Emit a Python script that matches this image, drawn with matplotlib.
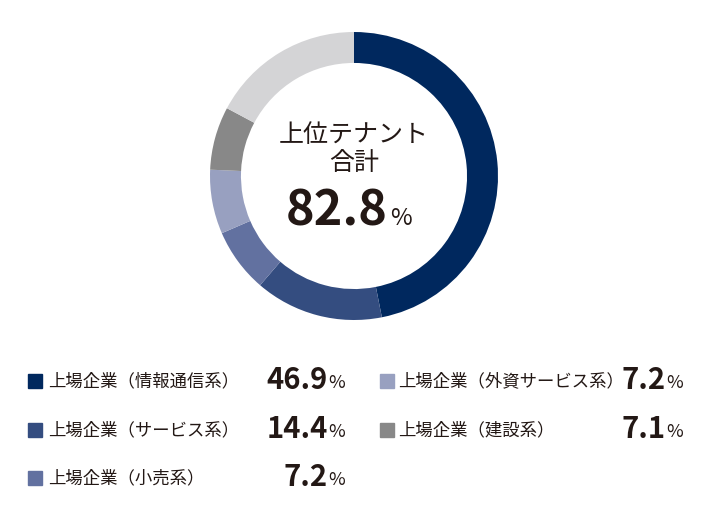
import matplotlib.pyplot as plt

plt.rcParams['font.family'] = ['Noto Sans CJK JP', 'DejaVu Sans']

labels = ['上場企業（情報通信系）', '上場企業（サービス系）', '上場企業（小売系）',
          '上場企業（外資サービス系）', '上場企業（建設系）']
values = [46.9, 14.4, 7.2, 7.2, 7.1]
colors = ['#00285e', '#344d80', '#6271a0', '#98a0c0', '#888888']
other_color = '#d4d4d6'
total_label = '82.8'
text_color = '#231815'

W, H = 710, 520
fig = plt.figure(figsize=(W / 100, H / 100), dpi=100)

# donut
cx, cy, r = 354, 176, 144
ax = fig.add_axes([(cx - r) / W, 1 - (cy + r) / H, 2 * r / W, 2 * r / H])
rest = 100 - sum(values)
ax.pie(values + [rest], colors=colors + [other_color], startangle=90,
       counterclock=False, radius=1, wedgeprops=dict(width=0.215, linewidth=0))
ax.set_xlim(-1, 1)
ax.set_ylim(-1, 1)
ax.set_aspect('equal')
ax.axis('off')

def px(x, y):
    return x / W, 1 - y / H

fig.text(*px(cx, 135), '上位テナント', ha='center', va='center', fontsize=18, color=text_color)
fig.text(*px(cx, 163), '合計', ha='center', va='center', fontsize=18, color=text_color)
fig.text(*px(388, 211), total_label, ha='right', va='center', fontsize=35,
         fontweight='bold', color=text_color)
fig.text(*px(390, 218), '%', ha='left', va='center', fontsize=17, color=text_color)

# legend
rows = [381, 430, 478]
slots = [(0, 0), (0, 1), (0, 2), (1, 0), (1, 1)]
col_x = [(28, 48, 343), (380, 398, 681)]
for (c, rr), lab, v, col in zip(slots, labels, values, colors):
    sx, lx, vx = col_x[c]
    y = rows[rr]
    fig.patches.append(plt.Rectangle(px(sx, y + 7), 14 / W, 14 / H, color=col,
                                     transform=fig.transFigure, figure=fig))
    fig.text(*px(lx, y), lab, ha='left', va='center', fontsize=12.5, color=text_color)
    fig.text(*px(vx - 15, y - 1), f'{v}', ha='right', va='center', fontsize=21,
             fontweight='bold', color=text_color)
    fig.text(*px(vx - 15, y + 2), '%', ha='left', va='center', fontsize=13,
             color=text_color)

fig.savefig('out.png', dpi=100, facecolor='white')
